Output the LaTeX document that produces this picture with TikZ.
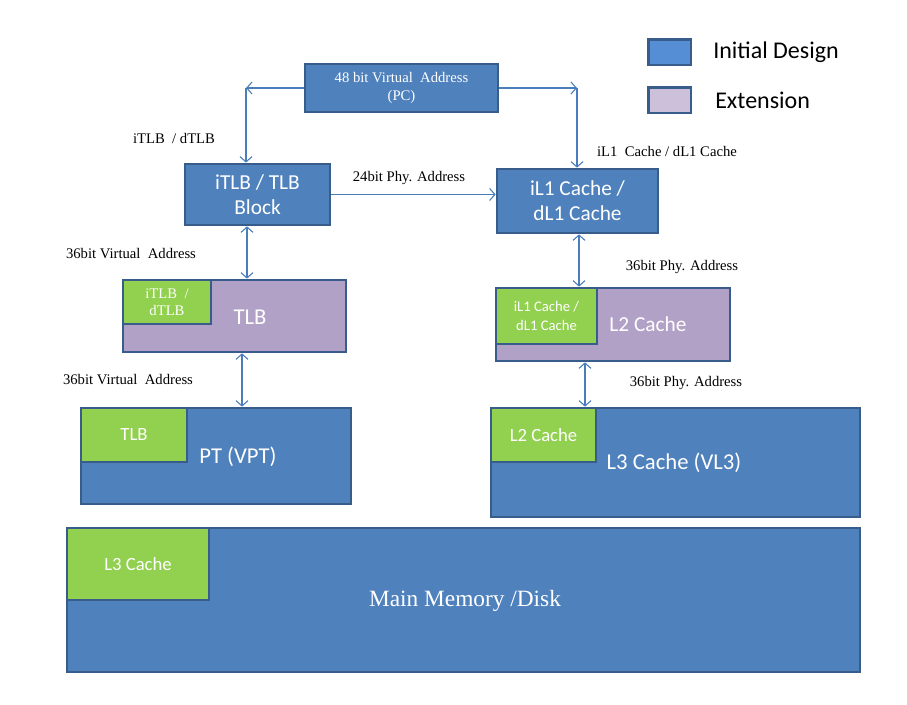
\documentclass[tikz,border=0pt]{standalone}
\usepackage{fontspec}
\setmainfont{Liberation Serif}
\setsansfont{Carlito}
\usepackage{tikz}
\usetikzlibrary{arrows.meta}

\definecolor{boxblue}{HTML}{4F81BD}
\definecolor{boxline}{HTML}{385D8A}
\definecolor{boxpurple}{HTML}{B2A1C7}
\definecolor{boxgreen}{HTML}{92D050}
\definecolor{legblue}{HTML}{558ED5}
\definecolor{legpurple}{HTML}{CCC0DA}
\definecolor{linkblue}{HTML}{4A7EBB}

\begin{document}
\begin{tikzpicture}[x=0.75pt,y=-0.75pt,>={Straight Barb[length=4pt,width=9pt]},
                    inner sep=0pt]

  \tikzstyle{blue box}=[rectangle,draw=boxline,line width=2pt,fill=boxblue,
                        text=white,align=center,font=\sffamily\fontsize{16}{19}\selectfont]
  \tikzstyle{purple box}=[blue box,fill=boxpurple]
  \tikzstyle{green box}=[blue box,fill=boxgreen,anchor=north west,
                         font=\sffamily\fontsize{14}{16}\selectfont]
  \tikzstyle{big text}=[text=white,font=\sffamily\fontsize{17}{20}\selectfont]
  \tikzstyle{tag}=[font=\fontsize{11}{13}\selectfont]
  \tikzstyle{link}=[draw=linkblue,line width=0.8pt]

  \useasboundingbox (0,0) rectangle (907,705);

  % legend
  \node[blue box,fill=legblue,minimum width=32pt,minimum height=19pt] (LB) at (669.5,52.5) {};
  \node[blue box,fill=legpurple,minimum width=32pt,minimum height=19pt] (LP) at (669.5,100.5) {};
  \node[anchor=west,font=\sffamily\fontsize{18}{21}\selectfont] at (713,52) {Initial Design};
  \node[anchor=west,font=\sffamily\fontsize{18}{21}\selectfont] at (715,100) {Extension};

  % top row
  \node[blue box,font=\fontsize{11}{14}\selectfont,minimum width=144.75pt,minimum height=36pt]
       (VA) at (401.5,88) {48 bit Virtual\ \ Address\\(PC)};
  \node[blue box,minimum width=108.75pt,minimum height=45.75pt] (ITLB) at (257.5,194.5) {iTLB / TLB\\Block};
  \node[blue box,minimum width=120.75pt,minimum height=48pt] (IL1) at (577.5,201) {iL1 Cache /\\dL1 Cache};

  % second level
  \node[purple box,minimum width=167.25pt,minimum height=54pt] (TLB) at (234.5,316) {};
  \node[green box,font=\fontsize{11}{13}\selectfont,minimum width=66pt,minimum height=33pt]
       (TLBG) at (TLB.north west) {iTLB\ \ /\\dTLB};
  \node[big text] at (250,317) {TLB};

  \node[purple box,minimum width=175.5pt,minimum height=54.75pt] (L2) at (613,324.5) {};
  \node[green box,font=\sffamily\fontsize{11}{14}\selectfont,minimum width=75.75pt,minimum height=42pt]
       (L2G) at (L2.north west) {iL1 Cache /\\dL1 Cache};
  \node[big text,font=\sffamily\fontsize{16}{19}\selectfont] at (648,324) {L2 Cache};

  % third level
  \node[blue box,minimum width=202.5pt,minimum height=72pt] (PT) at (216,456) {};
  \node[green box,minimum width=79.5pt,minimum height=40.5pt] (PTG) at (PT.north west) {TLB};
  \node[big text] at (238,457) {PT (VPT)};

  \node[blue box,minimum width=276.75pt,minimum height=81.75pt] (L3) at (675.5,462.5) {};
  \node[green box,minimum width=78.75pt,minimum height=40.5pt] (L3G) at (L3.north west) {L2 Cache};
  \node[big text] at (674,463) {L3 Cache (VL3)};

  % memory
  \node[blue box,minimum width=594.75pt,minimum height=108pt] (MM) at (463.5,600) {};
  \node[green box,minimum width=106.5pt,minimum height=54pt] (MMG) at (MM.north west) {L3 Cache};
  \node[text=white,font=\fontsize{17.5}{20}\selectfont] at (465,601) {Main Memory /Disk};

  % labels
  \node[tag] at (174,138) {iTLB\ \ / dTLB};
  \node[tag] at (409,178) {24bit\ Phy. Address};
  \node[tag] at (667,151) {iL1\ \ Cache / dL1 Cache};
  \node[tag] at (131,254) {36bit\ Virtual\ \ Address};
  \node[tag] at (682,267) {36bit\ Phy. Address};
  \node[tag] at (128,380) {36bit\ Virtual\ \ Address};
  \node[tag] at (686,383) {36bit\ Phy. Address};

  % connectors
  \coordinate (CL) at (246,88);
  \coordinate (CR) at (577,88);
  \coordinate (XA) at (247,0);
  \coordinate (XB) at (242,0);
  \coordinate (XC) at (579,0);
  \coordinate (XD) at (585,0);

  \path[link]
  (VA.west)          edge[->]  (CL)
  (CL)               edge[->]  (CL |- ITLB.north)
  (VA.east)          edge[->]  (CR)
  (CR)               edge[->]  (CR |- IL1.north)
  (ITLB.east)        edge[->]  (ITLB.east -| IL1.west)
  (XA |- ITLB.south) edge[<->] (XA |- TLB.north)
  (XB |- TLB.south)  edge[<->] (XB |- PT.north)
  (XC |- IL1.south)  edge[<->] (XC |- L2.north)
  (XD |- L2.south)   edge[<->] (XD |- L3.north);
\end{tikzpicture}
\end{document}
